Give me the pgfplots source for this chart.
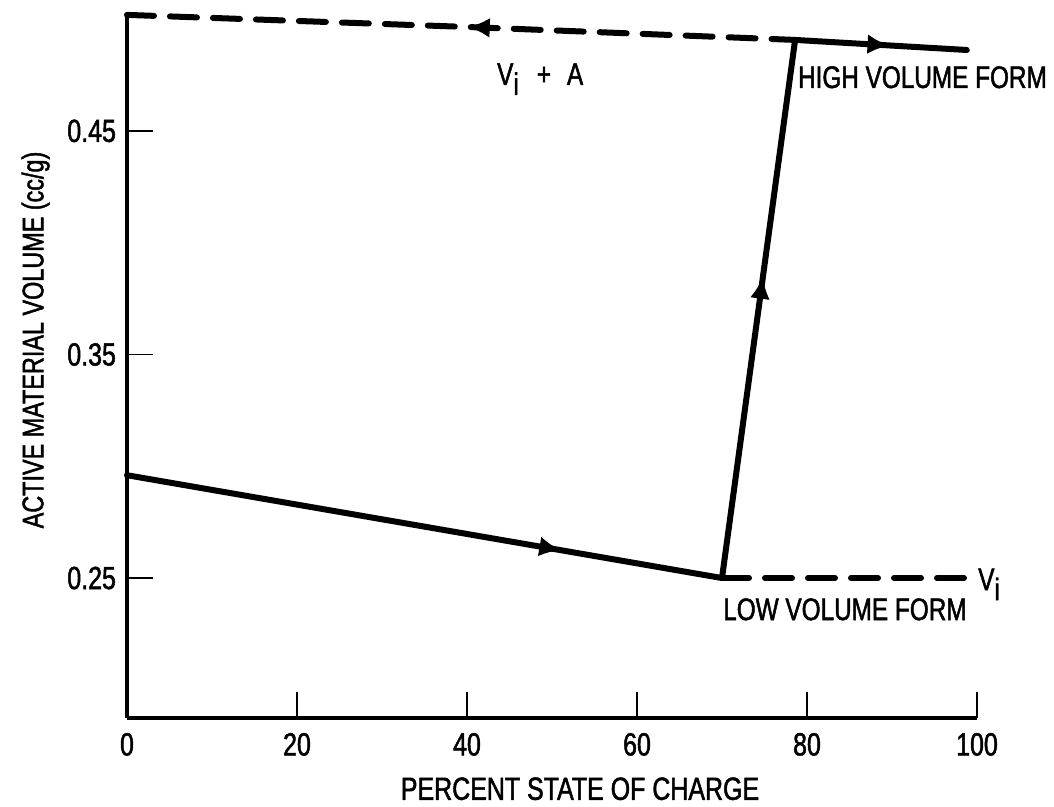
\documentclass[border=0pt]{standalone}
\usepackage{fontspec}
\setmainfont{Liberation Sans}[FakeStretch=0.78, FakeBold=1.5]
\usepackage{pgfplots}
\pgfplotsset{compat=1.18}
\usetikzlibrary{arrows.meta,decorations.markings}
\newcommand{\sub}[1]{\raisebox{-5pt}{#1}}
\begin{document}
\begin{tikzpicture}[txt/.style={anchor=base west, inner sep=0pt, font=\fontsize{15.6}{18}\selectfont}]
\begin{axis}[
  name=ax,
  scale only axis, width=425pt, height=352pt,
  xmin=0, xmax=100, ymin=0.1874, ymax=0.5023,
  axis x line*=bottom, axis y line*=left,
  axis line style={line width=2.2pt},
  xtick={0,20,40,60,80,100}, xticklabels={0,20,40,60,80,100},
  ytick={0.25,0.35,0.45}, yticklabels={0.25,0.35,0.45},
  tick align=inside, major tick length=13pt,
  tick style={line width=0.8pt, black},
  tick label style={font=\fontsize{16}{18}\selectfont},
  xticklabel style={yshift=-4pt},
  yticklabel style={xshift=-2pt},
  xlabel={PERCENT STATE OF CHARGE},
  xlabel style={font=\fontsize{16}{18}\selectfont, yshift=-4pt, xshift=14pt},
  ylabel={ACTIVE MATERIAL VOLUME (cc/g)},
  ylabel style={font=\fontsize{15}{18}\selectfont, xshift=13pt, yshift=2pt},
  clip=false,
]
% top dashed (V_i + A)
\addplot[black, line width=3pt, dash pattern=on 13.5pt off 8pt, line cap=round,
  postaction={decorate},
  decoration={markings, mark=at position 0.51 with {\arrowreversed{Latex[length=11pt,width=10pt]}}}]
  coordinates {(0,0.5019) (40,0.4965) (78.6,0.4907)};
% top solid right part
\addplot[black, line width=3pt, line cap=round,
  postaction={decorate},
  decoration={markings, mark=at position 0.55 with {\arrow{Latex[length=11pt,width=10pt]}}}]
  coordinates {(78.6,0.4907) (98.8,0.4862)};
% lower solid
\addplot[black, line width=3pt, line cap=round,
  postaction={decorate},
  decoration={markings, mark=at position 0.73 with {\arrow{Latex[length=11pt,width=10pt]}}}]
  coordinates {(0,0.2960) (70,0.2500)};
% steep rise
\addplot[black, line width=3pt, line cap=round,
  postaction={decorate},
  decoration={markings, mark=at position 0.56 with {\arrow{Latex[length=11pt,width=10pt]}}}]
  coordinates {(70,0.2500) (78.6,0.4907)};
% bottom dashed (V_i)
\addplot[black, line width=3pt, dash pattern=on 13.5pt off 8pt, line cap=round]
  coordinates {(70,0.2500) (100,0.2500)};

\node[txt] at (axis cs:43.5,0.4706) {V\sub{i}\hspace{9pt}+\hspace{8pt}A};
\node[txt] at (axis cs:78.9,0.4692) {HIGH VOLUME FORM};
\node[txt] at (axis cs:70.1,0.2312) {LOW VOLUME FORM};
\node[txt] at (axis cs:100.1,0.2446) {V\sub{i}};
\end{axis}
\path ([xshift=-63.5pt,yshift=-43pt]ax.south west) rectangle ([xshift=38.5pt,yshift=7pt]ax.north east);
\end{tikzpicture}
\end{document}
